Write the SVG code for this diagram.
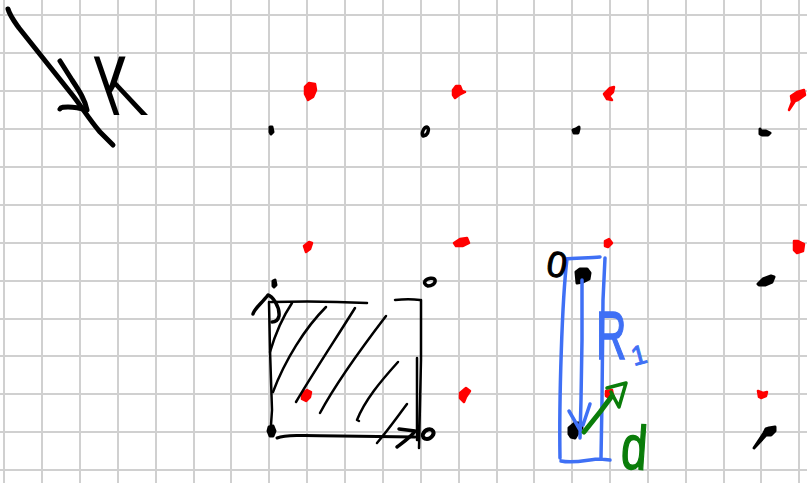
<svg xmlns="http://www.w3.org/2000/svg" width="807" height="483" viewBox="0 0 807 483">
<defs><style>
.g{stroke:#d0d0d0;stroke-width:2;fill:none}
path{fill:none;stroke-linecap:round;stroke-linejoin:round}
.k{stroke:#000;stroke-width:2.5}
.K{stroke:#000;stroke-width:5}
.b{stroke:#3f70f5;stroke-width:3.5}
.v{stroke:#0a7d0a;stroke-width:5}
.r{fill:#f00;stroke:#f00;stroke-width:2.5}
.d{fill:#000;stroke:#000;stroke-width:3}
text{font-family:"Liberation Sans",Arial,sans-serif}
</style></defs>
<rect width="807" height="483" fill="#fff"/>
<g id="grid">
<path class="g" d="M4 0V483M42 0V483M80 0V483M118 0V483M156 0V483M194 0V483M231 0V483M269 0V483M307 0V483M345 0V483M383 0V483M421 0V483M459 0V483M497 0V483M534 0V483M572 0V483M610 0V483M648 0V483M686 0V483M724 0V483M761 0V483M799 0V483"/>
<path class="g" d="M0 15H807M0 53H807M0 91H807M0 129H807M0 167H807M0 205H807M0 243H807M0 281H807M0 319H807M0 356H807M0 394H807M0 432H807M0 470H807"/>
</g>
<g id="wave-vector">
<path class="K" d="M8 9C10 16 14 21 19 28C30 42 50 67 70 92C80 104 88 118 100 132L113 145"/>
<path class="K" d="M60 61L72 80C80 92 85 100 87 110C80 108 74 107 68 107C64 107 61 107 60 109"/>
<text transform="translate(109 115) skewX(19) scale(.7 1)" font-size="85" fill="#000">K</text>
</g>
<g id="red-dots">
<path class="r" d="M305 87L309 83L315 84L316 90L313 97L308 100L305 94Z"/>
<path class="r" d="M453 90L456 86L460 86L462 91L465 92L459 95L455 98L453 95Z"/>
<path class="r" d="M604 94L610 88L614 87L613 92L609 96L612 100L607 99Z"/>
<path class="r" d="M791 96L797 92L804 90L805 95L798 100L795 101L789 110L792 102Z"/>
<path class="r" d="M304 246L309 242L312 243L310 249L306 252Z"/>
<path class="r" d="M454 243L460 239L467 238L469 243L463 246L456 246Z"/>
<path class="r" d="M605 241L609 239L612 243L608 247L605 246Z"/>
<path class="r" d="M794 241L798 241L804 244L803 251L797 253L794 250Z"/>
<path class="r" d="M302 393L307 390L311 392L310 397L306 401L302 399Z"/>
<path class="r" d="M460 393L466 388L470 391L466 397L464 402L460 398Z"/>
<path class="r" d="M606 391L612 390L613 396L609 398L606 396Z"/>
<path class="r" d="M758 391L763 393L767 392L766 396L761 398L759 397Z"/>
</g>
<g id="black-dots">
<path class="d" d="M270 127L272 127L273 132L271 134L270 132Z"/>
<path class="k" d="M423 136C421 133 424 127 427 127C429 128 429 132 426 135Z" style="stroke-width:3.5"/>
<path class="d" d="M573 130L576 129L579 127L579 129L578 133L574 133Z"/>
<path class="d" d="M760 129L761 131L766 131L770 133L768 135L762 135L760 134Z"/>
<path class="d" d="M273 281L275 280L276 285L274 287L273 286Z"/>
<path class="k" d="M425 281C427 278 434 277 435 280C436 284 431 286 428 286C425 285 424 283 425 281Z" style="stroke-width:3.5"/>
<path class="d" d="M576 272L580 269L587 269L590 273L589 279L583 282L577 283Z"/>
<path class="d" d="M758 284L763 279L771 276L774 277L772 282L765 285L759 285Z"/>
<path class="d" d="M269 427L273 426L275 431L273 436L270 436L268 431Z"/>
<path class="k" d="M423 434C425 429 431 428 433 431C435 434 431 439 427 439C424 439 422 437 423 434Z" style="stroke-width:4"/>
<path class="d" d="M569 428L575 423L581 423L582 428L578 433L575 438L571 437L569 434Z"/>
<path class="d" d="M766 429L769 428L775 427L775 431L771 435L766 435L754 448L764 433Z"/>
</g>
<g id="unit-cell">
<path class="k" d="M269 302L270 350L272 410L271 425"/>
<path class="k" d="M271 302C300 301 330 301 367 303M395 300C405 299 412 299 420 300M421 300L421 360L419 448M417 358L417 440"/>
<path class="K" style="stroke-width:3" d="M277 438C285 435 300 435 340 436L415 437"/>
<path class="K" style="stroke-width:3.5" d="M399 429L415 431C412 436 405 441 397 447"/>
<path class="K" style="stroke-width:3.5" d="M253 314C254 309 262 303 268 295C272 296 280 306 279 316C278 320 275 322 272 322"/>
<path class="K" style="stroke-width:2.5" d="M292 303C282 318 275 335 270 352M326 307C305 328 285 360 273 392M355 308C335 340 315 370 296 402M386 316C360 350 335 385 320 413M398 362C380 382 365 400 357 420L359 421M407 404C395 420 388 430 377 443"/>
</g>
<g id="primitive-vector">
<path class="b" d="M565 259C575 258 590 258 600 257M567 259C562 300 559 400 560 458M561 461C575 464 590 459 600 459L610 460M605 258L603 300L602 400L601 458"/>
<path class="b" d="M582 280L582 340L581 400L580 438M569 411L580 430M590 404L583 425"/>
<text transform="translate(596 359) scale(.62 1)" font-size="68" fill="#3f70f5" stroke="#3f70f5" stroke-width="1.5">R</text>
<text transform="translate(634 366) rotate(-15)" font-size="27" fill="#3f70f5" stroke="#3f70f5">1</text>
<text transform="translate(620 468) rotate(4) scale(.75 1)" font-size="62" fill="#0a7d0a" stroke="#0a7d0a" stroke-width="1.5">d</text>
<text transform="translate(545 275) rotate(10)" font-size="36" fill="#000" stroke="#000">0</text>
<path class="v" d="M584 432L600 412L612 396"/>
<path class="v" style="stroke-width:3.5" d="M607 388L626 383L619 407L611 392"/>
</g>
</svg>
